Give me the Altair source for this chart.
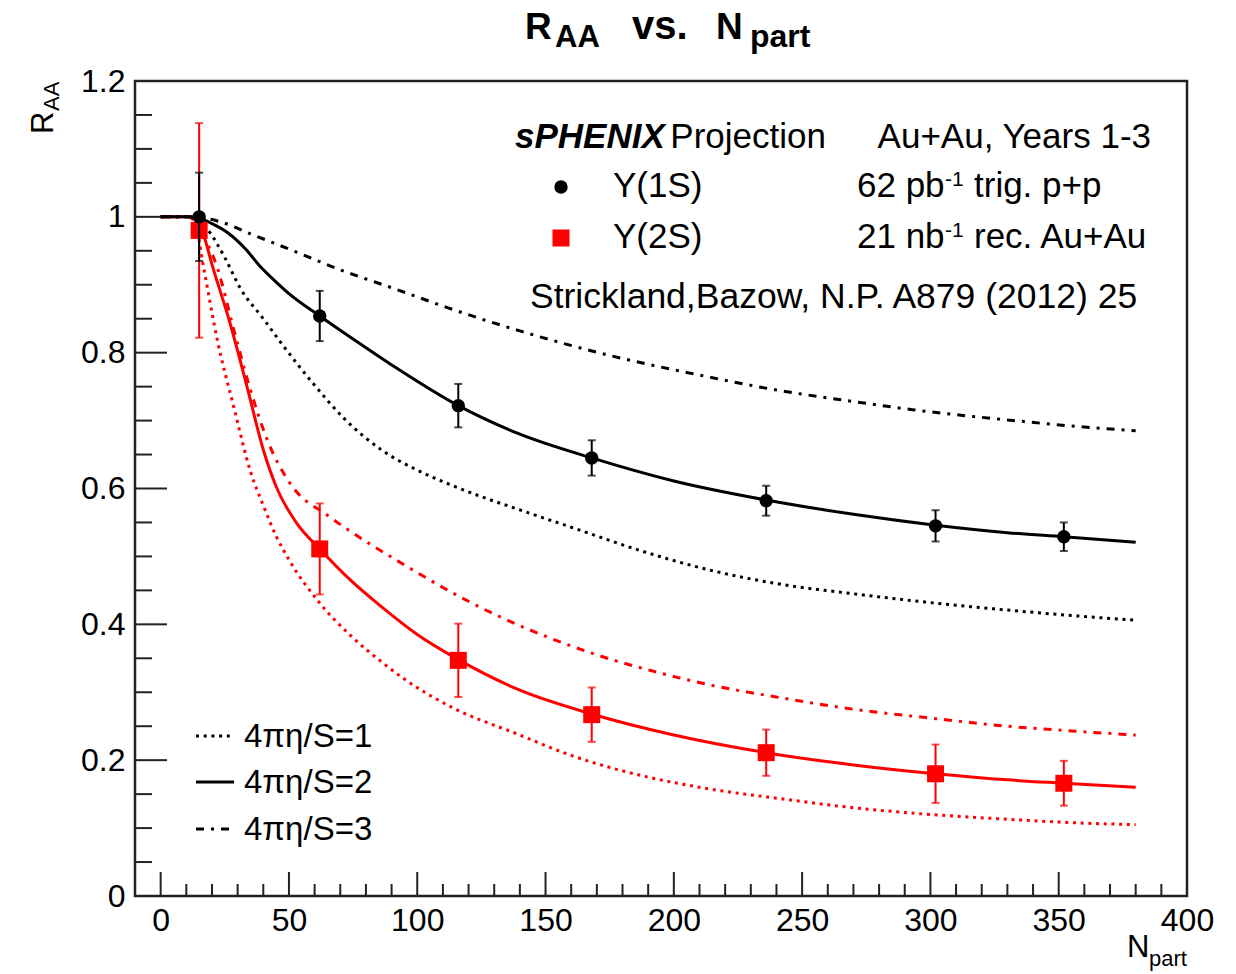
import altair as alt
import pandas as pd

# ------------------------------------------------------------------ data
npart_pts = [15, 62, 116, 168, 236, 302, 352]
raa_1s = [1.0, 0.854, 0.722, 0.645, 0.582, 0.545, 0.529]
err_1s = [0.065, 0.037, 0.032, 0.026, 0.022, 0.023, 0.021]
raa_2s = [0.98, 0.511, 0.347, 0.267, 0.211, 0.18, 0.166]
err_2s = [0.158, 0.067, 0.054, 0.04, 0.034, 0.043, 0.033]

# Upsilon(1S) model curves (4pi eta/S = 1, 2, 3)
c1s_eta1_x = [0, 10, 15, 19, 25, 31, 40, 48, 60, 71, 86, 100, 112, 125, 138, 160, 190, 215, 240, 270, 300, 330, 355, 380]
c1s_eta1_y = [1.0, 1.0, 0.995, 0.978, 0.94, 0.895, 0.85, 0.809, 0.752, 0.705, 0.657, 0.627, 0.607, 0.588, 0.571, 0.543, 0.505, 0.479, 0.46, 0.445, 0.432, 0.421, 0.413, 0.406]
c1s_eta2_x = [0, 10, 15, 20, 26, 33, 39, 45, 50, 62, 75, 90, 116, 140, 168, 200, 236, 270, 302, 330, 352, 380]
c1s_eta2_y = [1.0, 1.0, 0.998, 0.99, 0.977, 0.953, 0.926, 0.904, 0.887, 0.854, 0.82, 0.782, 0.722, 0.68, 0.645, 0.611, 0.583, 0.562, 0.546, 0.535, 0.529, 0.521]
c1s_eta3_x = [0, 10, 15, 23, 35, 53, 70, 92, 112, 140, 176, 210, 240, 270, 293, 330, 355, 380]
c1s_eta3_y = [1.0, 1.0, 0.999, 0.993, 0.975, 0.948, 0.922, 0.893, 0.866, 0.832, 0.795, 0.767, 0.745, 0.728, 0.716, 0.701, 0.692, 0.685]

# Upsilon(2S) model curves (4pi eta/S = 1, 2, 3)
c2s_eta1_x = [0, 10, 13, 17, 22, 28.5, 35, 40, 45, 50, 61, 75, 86, 94, 115, 138, 160, 190, 215, 240, 270, 300, 330, 355, 380]
c2s_eta1_y = [1.0, 1.0, 0.995, 0.92, 0.82, 0.72, 0.625, 0.575, 0.53, 0.495, 0.436, 0.38, 0.345, 0.322, 0.275, 0.24, 0.207, 0.175, 0.157, 0.144, 0.13, 0.12, 0.113, 0.108, 0.105]
c2s_eta2_x = [0, 10, 13, 17, 20, 27, 34, 40, 45, 53, 62, 74, 86, 100, 116, 140, 168, 200, 236, 270, 302, 330, 352, 380]
c2s_eta2_y = [1.0, 1.0, 0.998, 0.97, 0.93, 0.844, 0.745, 0.657, 0.603, 0.549, 0.511, 0.465, 0.426, 0.385, 0.348, 0.303, 0.268, 0.237, 0.211, 0.193, 0.18, 0.171, 0.166, 0.16]
c2s_eta3_x = [0, 10, 13, 17, 22, 28.5, 35, 41.5, 50, 66, 80, 93, 112, 130, 151, 170, 190, 215, 240, 270, 300, 330, 355, 380]
c2s_eta3_y = [1.0, 1.0, 0.998, 0.97, 0.926, 0.834, 0.745, 0.672, 0.61, 0.558, 0.522, 0.492, 0.45, 0.415, 0.381, 0.355, 0.333, 0.31, 0.293, 0.275, 0.262, 0.25, 0.243, 0.237]

x_major = [0, 50, 100, 150, 200, 250, 300, 350, 400]
x_minor = [v for v in range(10, 400, 10) if v % 50 != 0]
y_major = [0, 0.2, 0.4, 0.6, 0.8, 1.0, 1.2]
y_minor = [round(0.05 * i, 2) for i in range(1, 24) if i % 4 != 0]

# ------------------------------------------------------------------ layout
L, T, W, H = 135, 81, 1052, 815
FONT = "Liberation Sans"
RED = "#ff0000"

xs = alt.Scale(domain=[-10, 400], nice=False, zero=False)
ys = alt.Scale(domain=[0, 1.2], nice=False, zero=False)
xaxis = alt.Axis(values=x_major, title=None, ticks=False, domain=False, grid=False,
                 labelFontSize=32, labelFont=FONT, labelColor="#000", labelPadding=9,
                 labelFlush=False, labelOverlap=False, labelBound=False, labelBaseline="top")
yaxis = alt.Axis(values=y_major, title=None, ticks=False, domain=False, grid=False,
                 labelFontSize=32, labelFont=FONT, labelColor="#000", labelPadding=10,
                 labelFlush=False, labelOverlap=False, labelBound=False,
                 labelExpr="format(datum.value, '.1~f')")


def X(f):
    return alt.X(f, type="quantitative", scale=xs, axis=xaxis)


def Y(f):
    return alt.Y(f, type="quantitative", scale=ys, axis=yaxis)


def curve(xv, yv, color, dash=None):
    df = pd.DataFrame({"n": xv, "r": yv})
    kw = dict(color=color, strokeWidth=3, interpolate="monotone", strokeCap="butt")
    if dash:
        kw["strokeDash"] = dash
    return alt.Chart(df).mark_line(**kw).encode(x=X("n"), y=Y("r"))


DOT = [3, 4.7]
DASHDOT = [8, 7, 3, 7]

layers = []
# ticks (inward, ROOT style)
layers.append(alt.Chart(pd.DataFrame({"v": x_major})).mark_rule(color="#222", strokeWidth=2)
              .encode(x=X("v"), y=alt.value(H), y2=alt.value(H - 24)))
layers.append(alt.Chart(pd.DataFrame({"v": x_minor})).mark_rule(color="#222", strokeWidth=2)
              .encode(x=X("v"), y=alt.value(H), y2=alt.value(H - 12)))
layers.append(alt.Chart(pd.DataFrame({"v": y_major})).mark_rule(color="#222", strokeWidth=2)
              .encode(y=Y("v"), x=alt.value(0), x2=alt.value(32)))
layers.append(alt.Chart(pd.DataFrame({"v": y_minor})).mark_rule(color="#222", strokeWidth=2)
              .encode(y=Y("v"), x=alt.value(0), x2=alt.value(17)))

# model curves
layers += [
    curve(c2s_eta1_x, c2s_eta1_y, RED, DOT),
    curve(c2s_eta3_x, c2s_eta3_y, RED, DASHDOT),
    curve(c2s_eta2_x, c2s_eta2_y, RED),
    curve(c1s_eta1_x, c1s_eta1_y, "#000", DOT),
    curve(c1s_eta3_x, c1s_eta3_y, "#000", DASHDOT),
    curve(c1s_eta2_x, c1s_eta2_y, "#000"),
]


def points(raa, err, color, shape, size):
    df = pd.DataFrame({"n": npart_pts, "r": raa,
                       "lo": [a - b for a, b in zip(raa, err)],
                       "hi": [a + b for a, b in zip(raa, err)]})
    caps = pd.DataFrame({"n": npart_pts * 2,
                         "c": list(df["lo"]) + list(df["hi"])})
    bars = alt.Chart(df).mark_rule(color=color, strokeWidth=2).encode(x=X("n"), y=Y("lo"), y2="hi")
    cap = alt.Chart(caps).mark_tick(color=color, orient="horizontal", size=8, thickness=2).encode(x=X("n"), y=Y("c"))
    pts = alt.Chart(df).mark_point(shape=shape, filled=True, size=size, color=color, opacity=1).encode(x=X("n"), y=Y("r"))
    return [bars, cap, pts]


layers += points(raa_2s, err_2s, RED, "square", 289)
layers += points(raa_1s, err_1s, "#000", "circle", 180)


def txt(px, py, s, size=35, weight="normal", style="normal", align="left", color="#000", angle=0):
    kw = dict(font=FONT, fontSize=size, fontWeight=weight, fontStyle=style, align=align,
              baseline="alphabetic", color=color)
    if angle:
        kw["angle"] = angle
    return alt.Chart(pd.DataFrame({"t": [s]})).mark_text(**kw).encode(
        x=alt.value(px - L), y=alt.value(py - T), text="t:N")


# title
layers += [
    txt(525, 39, "R", 37, "bold"),
    txt(555, 47, "AA", 31, "bold"),
    txt(632, 39, "vs.", 40, "bold"),
    txt(716, 39, "N", 37, "bold"),
    txt(750, 47, "part", 32, "bold"),
]
# axis titles
layers += [
    txt(53, 134, "R", 31, angle=270),
    txt(59, 111, "AA", 22, angle=270),
    txt(1127, 957, "N", 31),
    txt(1149, 966, "part", 22),
]
# top-right legend
layers += [
    txt(515, 148, "sPHENIX", 35, "bold", "italic"),
    txt(826, 148, "Projection", 35, align="right"),
    txt(1151, 148, "Au+Au, Years 1-3", 35, align="right"),
    txt(613, 197, "\u03a5(1S)", 35),
    txt(613, 248, "\u03a5(2S)", 35),
    txt(857, 197, "62 pb", 35),
    txt(945, 186, "-1", 21),
    txt(974, 197, "trig. p+p", 35),
    txt(857, 248, "21 nb", 35),
    txt(945, 237, "-1", 21),
    txt(974, 248, "rec. Au+Au", 35),
    txt(530, 308, "Strickland,Bazow, N.P. A879 (2012) 25", 35.5),
]
one = pd.DataFrame({"k": [0]})
layers.append(alt.Chart(one).mark_point(shape="circle", filled=True, size=180, color="#000", opacity=1)
              .encode(x=alt.value(561 - L), y=alt.value(187 - T)))
layers.append(alt.Chart(one).mark_point(shape="square", filled=True, size=289, color=RED, opacity=1)
              .encode(x=alt.value(561 - L), y=alt.value(238 - T)))

# bottom-left legend
for yy, dash, label, base in [(736, DOT, "4\u03c0\u03b7/S=1", 747),
                              (782, None, "4\u03c0\u03b7/S=2", 793),
                              (829, DASHDOT, "4\u03c0\u03b7/S=3", 840)]:
    kw = dict(color="#000", strokeWidth=3, strokeCap="butt")
    if dash:
        kw["strokeDash"] = dash
    layers.append(alt.Chart(one).mark_rule(**kw).encode(
        x=alt.value(196 - L), x2=alt.value(234 - L), y=alt.value(yy - T)))
    layers.append(txt(244, base, label, 33))

chart = alt.layer(*layers).properties(
    width=W, height=H,
    autosize=alt.AutoSizeParams(type="none"),
    padding={"left": L, "top": T, "right": 1236 - L - W, "bottom": 974 - T - H},
    background="white",
).configure_view(stroke="#222", strokeWidth=2.5)

chart.save("out.html", embed_options={"renderer": "svg", "actions": False})
